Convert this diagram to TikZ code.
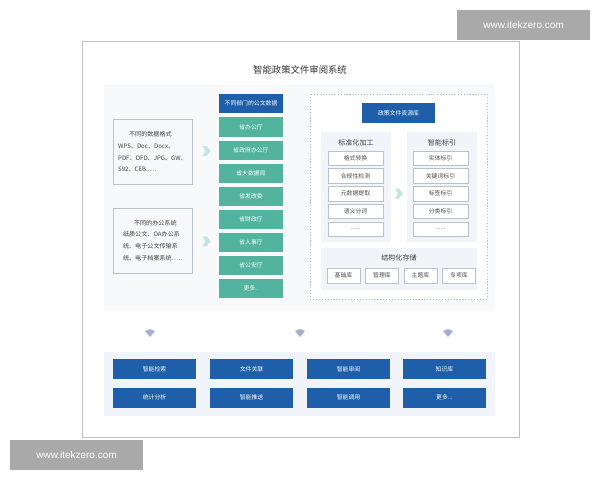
\documentclass[tikz,border=0pt]{standalone}
\usepackage{fontspec}
\setmainfont{Noto Sans CJK SC}
\newfontfamily\wmfont{Liberation Sans}
\usetikzlibrary{calc}
\definecolor{deepblue}{HTML}{1F5EA8}
\definecolor{tealbox}{HTML}{52B49F}
\definecolor{panelgray}{HTML}{F1F4F8}
\definecolor{linegray}{HTML}{B9C1CC}
\definecolor{wmgray}{HTML}{A9A9A9}
\newcommand\dotrow{......}
\newcommand\moreshort{更多..}
\newcommand\morelong{更多...}
\begin{document}
\begin{tikzpicture}[x=0.03cm, y=-0.03cm,
    txt/.style={font=\fontsize{5}{7}\selectfont},
    bluebox/.style={txt, fill=deepblue, text=white, minimum width=#1*0.03cm, minimum height=0.57cm, inner sep=0pt},
    greenbox/.style={txt, fill=tealbox, text=white, minimum width=1.92cm, minimum height=0.57cm, inner sep=0pt},
    itembox/.style={txt, draw=linegray, fill=white, text=black!70, minimum width=#1*0.03cm, minimum height=0.43cm, inner sep=0pt},
    srcbox/.style={font=\fontsize{5.2}{10}\selectfont, draw=linegray, fill=panelgray!60, text=black!75, minimum width=2.37cm, minimum height=1.95cm, align=left, inner sep=2pt},
    wmbox/.style={fill=wmgray, text=white, font=\wmfont\fontsize{8.5}{10}\selectfont, minimum width=3.99cm, minimum height=0.9cm},
    rarrow/.pic={\fill[tealbox!35] (-3,-5) -- (1,-5) -- (5,0) -- (1,5) -- (-3,5) -- (0,0) -- cycle;},
    darrow/.pic={\fill[linegray!90!blue] (-5,-2) -- (0,-4) -- (5,-2) -- (0,4) -- cycle;}]
    \useasboundingbox (0,0) rectangle (600,480);
    % frame and backgrounds
    \draw[black!25] (82,41) rectangle (519,437);
    \fill[panelgray!50] (104,85) rectangle (495,310);
    \node[font=\fontsize{8}{9}\selectfont, text=black!80] (title) at (300,70) {智能政策文件审阅系统};
    % sources
    \node[srcbox] (src1) at (152.5,152) {\hspace*{1.8em}不同的数据格式\\WPS、Doc、Docx、\\PDF、OFD、JPG、GW、\\S92、CEB\dotrow};
    \node[srcbox] (src2) at (152.5,240.5) {\hspace*{1.8em}不同的办公系统\\纸质公文、OA办公系\\统、电子公文传输系\\统、电子档案系统\dotrow};
    % departments
    \node[bluebox=64] (dephead) at (251,103.5) {不同部门的公文数据};
    \foreach \t [count=\i from 0] in {省办公厅,省政府办公厅,省大数据局,省发改委,省财政厅,省人事厅,省公安厅,\moreshort}
        \node[greenbox] (dep\i) at (251,127+23*\i) {\t};
    \path ($(src1.east)!0.5!(dep1.west)$) pic {rarrow};
    \path ($(src2.east)!0.5!(dep5.west)$) pic {rarrow};
    % resource library
    \draw[linegray, dash pattern=on 1pt off 1.5pt, fill=white] (310,94) rectangle (487,299);
    \node[bluebox=73] (lib) at (398.5,113) {政策文件资源库};
    \fill[panelgray] (321,132) rectangle (391,242);
    \fill[panelgray] (407,132) rectangle (477,242);
    \node[txt, font=\fontsize{6}{7}\selectfont, text=black!75] (proc) at (356,143) {标准化加工};
    \node[txt, font=\fontsize{6}{7}\selectfont, text=black!75] (idx) at (442,143) {智能标引};
    \foreach \t [count=\i from 0] in {格式转换,合规性检测,元数据提取,语义分词,\dotrow}
        \node[itembox=55] (proc\i) at (355.5,158+17.8*\i) {\t};
    \foreach \t [count=\i from 0] in {实体标引,关键词标引,标签标引,分类标引,\dotrow}
        \node[itembox=55] (idx\i) at (440.5,158+17.8*\i) {\t};
    \path ($(proc2.east)!0.5!(idx2.west)$) pic {rarrow};
    \fill[panelgray] (321,248) rectangle (477,290);
    \node[txt, font=\fontsize{6}{7}\selectfont, text=black!75] (store) at (399,258) {结构化存储};
    \foreach \t/\x [count=\i] in {基础库/343.5,管理库/382,主题库/420.5,专项库/459}
        \node[itembox=33, minimum height=0.45cm] (store\i) at (\x,275.5) {\t};
    % applications
    \foreach \x in {150,300,448}
        \path (\x,333) pic {darrow};
    \fill[panelgray] (104,352) rectangle (495,416);
    \foreach \t/\x [count=\i] in {智能检索/154.5,文件关联/251.5,智能审阅/348.5,知识库/444.5}
        \node[bluebox=83, minimum height=0.6cm] (appa\i) at (\x,369) {\t};
    \foreach \t/\x [count=\i] in {统计分析/154.5,智能推送/251.5,智能调用/348.5,\morelong/444.5}
        \node[bluebox=83, minimum height=0.6cm] (appb\i) at (\x,397.5) {\t};
    % watermarks
    \node[wmbox] (wm1) at (523.5,25) {www.itekzero.com};
    \node[wmbox] (wm2) at (76.5,455) {www.itekzero.com};
\end{tikzpicture}
\end{document}
